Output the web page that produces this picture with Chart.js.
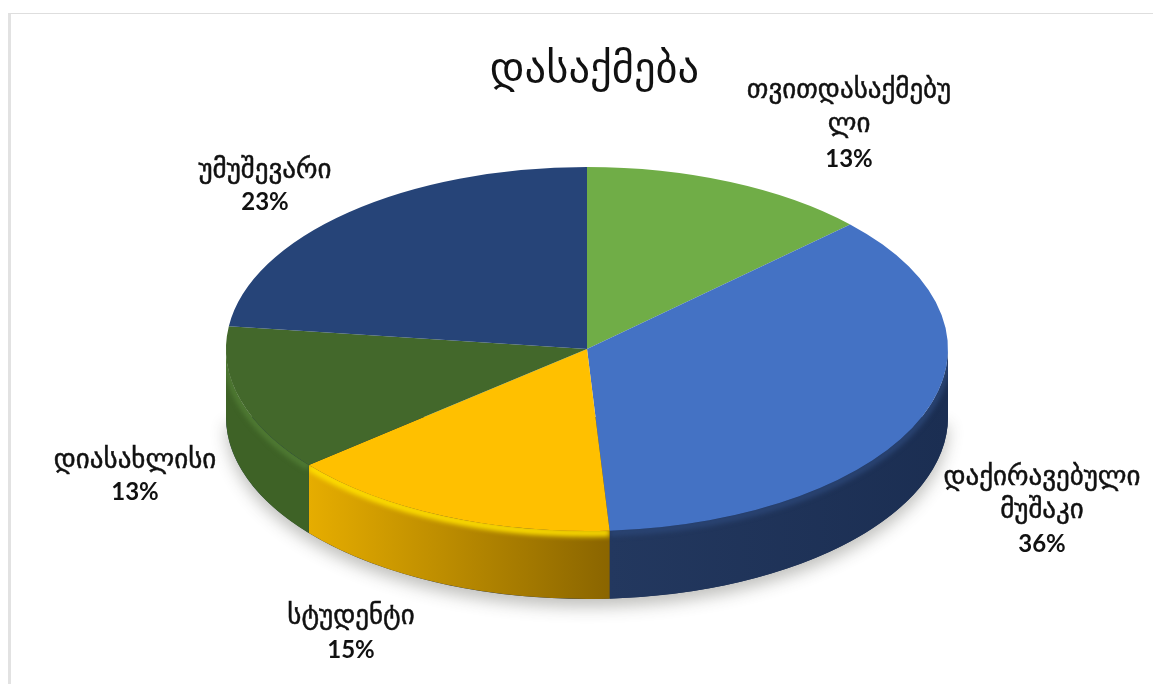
<!DOCTYPE html>
<html lang="ka">
<head>
<meta charset="utf-8">
<title>დასაქმება</title>
<script src="https://cdn.jsdelivr.net/npm/chart.js@4/dist/chart.umd.min.js"></script>
<style>
    html, body { margin: 0; padding: 0; background: #fff; overflow: hidden; }
    #myChart { position: absolute; left: 0; top: 0; }
    /* thin grey edge along the top and left */
    #frame { position: absolute; left: 8px; top: 13px; right: 0; bottom: 0; border-top: 1px solid #dedede; border-left: 3px solid #e2e2e2; pointer-events: none; }
</style>
</head>
<body>
<canvas id="myChart" width="1153" height="684"></canvas>
<div id="frame"></div>
<script>
const titleText = "დასაქმება";
const categories = [
    ["თვითდასაქმებუ", "ლი"],
    ["დაქირავებული", "მუშაკი"],
    ["სტუდენტი"],
    ["დიასახლისი"],
    ["უმუშევარი"]
];
const shares = [13, 36, 15, 13, 23];
const topColors = ["#70ad47", "#4472c4", "#ffc000", "#43682b", "#264478"];
const sideColors = [
    ["#4f7a32", "#4f7a32"],
    ["#23385f", "#1b2e52"],
    ["#e6ad00", "#8a6500"],
    ["#3e6226", "#3e6226"],
    ["#1b3157", "#1b3157"]
];
const rimColors = ["#7fc050", "#2a4473", "#ffdf00", "#4f7a33", "#2c4e88"];

// where the flattened disc sits on the canvas
const disc = { x: 587, y: 349, rx: 361, ry: 182, depth: 68 };

// center x and first line y of every label
const labelSpots = [[849, 91], [1042, 478], [351, 617], [135, 461], [265, 171]];
const labelLineHeights = [34, 33, 33, 31, 31];

function tracePath(ctx, a0, a1, dy, back) {
    ctx.ellipse(disc.x, disc.y + dy, disc.rx, disc.ry, 0, a0, a1, back);
}

// draws the shadow and the rim of the disc, then squashes the arcs of the pie
const disc3d = {
    id: 'disc3d',
    beforeDatasetsDraw(chart) {
        const ctx = chart.ctx;
        const arcs = chart.getDatasetMeta(0).data;

        ctx.save();
        ctx.shadowColor = 'rgba(60,60,50,0.32)';
        ctx.shadowBlur = 16;
        ctx.shadowOffsetY = 8;
        ctx.fillStyle = '#1b2e52';
        ctx.beginPath();
        tracePath(ctx, 0, Math.PI, disc.depth, false);
        ctx.fill();
        ctx.restore();

        arcs.forEach((arc, i) => {
            // only the part facing the viewer has a visible side
            const from = Math.max(arc.startAngle, 0);
            const to = Math.min(arc.endAngle, Math.PI);
            if (to <= from) return;
            const xa = disc.x + disc.rx * Math.cos(from);
            const xb = disc.x + disc.rx * Math.cos(to);
            const grad = ctx.createLinearGradient(Math.min(xa, xb), 0, Math.max(xa, xb), 0);
            grad.addColorStop(0, sideColors[i][0]);
            grad.addColorStop(1, sideColors[i][1]);

            ctx.save();
            ctx.fillStyle = grad;
            ctx.beginPath();
            tracePath(ctx, from, to, 0, false);
            tracePath(ctx, to, from, disc.depth, true);
            ctx.closePath();
            ctx.fill();
            ctx.clip();

            // soft bevel just under the top edge
            ctx.filter = 'blur(2.5px)';
            ctx.strokeStyle = rimColors[i];
            ctx.lineWidth = 7;
            ctx.beginPath();
            tracePath(ctx, from, to, 2, false);
            ctx.stroke();
            ctx.restore();
        });

        const first = arcs[0];
        const r = first.outerRadius;
        ctx.save();
        ctx.translate(disc.x, disc.y);
        ctx.scale(disc.rx / r, disc.ry / r);
        ctx.translate(-first.x, -first.y);
    },
    afterDatasetsDraw(chart) {
        chart.ctx.restore();
    }
};

const sliceLabels = {
    id: 'sliceLabels',
    afterDraw(chart) {
        const ctx = chart.ctx;
        ctx.save();
        ctx.fillStyle = '#111';
        ctx.strokeStyle = '#111';
        ctx.lineWidth = 0.5;
        ctx.textAlign = 'center';
        ctx.textBaseline = 'middle';
        categories.forEach((lines, i) => {
            const x = labelSpots[i][0];
            let y = labelSpots[i][1];
            ctx.font = '27px "DejaVu Sans"';
            lines.forEach(line => {
                ctx.fillText(line, x, y);
                ctx.strokeText(line, x, y);
                y += labelLineHeights[i];
            });
            ctx.font = 'bold 24px Lato';
            ctx.fillText(shares[i] + '%', x, y);
        });
        ctx.restore();
    }
};

new Chart(document.getElementById('myChart'), {
    type: 'pie',
    data: {
        labels: categories,
        datasets: [{
            data: shares,
            backgroundColor: topColors,
            borderWidth: 0
        }]
    },
    options: {
        responsive: false,
        animation: false,
        events: [],
        layout: { padding: { left: 36 } },
        plugins: {
            legend: { display: false },
            tooltip: { enabled: false },
            title: {
                display: true,
                text: titleText,
                color: '#111',
                font: { family: '"DejaVu Sans"', size: 42.5, weight: 'normal' },
                padding: { top: 45, bottom: 10 }
            }
        }
    },
    plugins: [disc3d, sliceLabels]
});
</script>
</body>
</html>
